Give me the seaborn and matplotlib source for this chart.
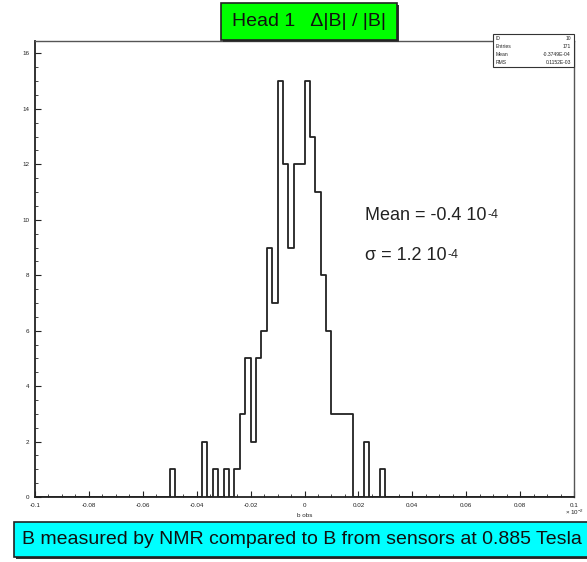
import numpy as np
import pandas as pd
import matplotlib
matplotlib.use("Agg")
import matplotlib.pyplot as plt
from matplotlib.patches import Rectangle
from matplotlib.ticker import MultipleLocator
import seaborn as sns

# Histogram definition: 100 bins on [-0.1, 0.1] (units of 1e-2)
x_min, x_max, n_bins = -0.1, 0.1, 100
filled_bins = [25, 31, 33, 35, 37, 38, 39, 40, 41, 42, 43, 44, 45, 46,
               47, 48, 49, 50, 51, 52, 53, 54, 55, 56, 57, 58, 61, 64]
bin_counts = [1, 2, 1, 1, 1, 3, 5, 2, 5, 6, 9, 7, 15, 12,
              9, 12, 12, 15, 13, 11, 8, 6, 3, 3, 3, 3, 2, 1]

stat_labels = ["ID", "Entries", "Mean", "RMS"]
stat_values = ["10", "171", "-0.3749E-04", "0.1152E-03"]

title_text = "Head 1   \u0394|B| / |B|"
caption_text = "B measured by NMR compared to B from sensors at 0.885 Tesla"
mean_text = "Mean = -0.4 10"
sigma_text = "\u03c3 = 1.2 10"
exponent_text = "-4"

edges = np.linspace(x_min, x_max, n_bins + 1)
centers = 0.5 * (edges[:-1] + edges[1:])
counts = np.zeros(n_bins)
counts[filled_bins] = bin_counts
df = pd.DataFrame({"b obs": centers, "n": counts})

sns.set_theme(style="white")
plt.rcParams["font.family"] = ["Liberation Sans", "DejaVu Sans"]
plt.rcParams["mathtext.default"] = "regular"

W, H = 587, 562
fig = plt.figure(figsize=(W / 100, H / 100), dpi=100)
fig.patch.set_facecolor("white")
ax = fig.add_axes([35 / W, 1 - 497 / H, (574 - 35) / W, (497 - 41) / H])

sns.histplot(data=df, x="b obs", weights="n", bins=n_bins,
             binrange=(x_min, x_max), element="step",
             fill=False, color="#222222", linewidth=1.3, ax=ax)

ax.set_xlim(x_min, x_max)
ax.set_ylim(0, 16.45)
ax.set_ylabel("")
ax.set_xlabel("b obs", fontsize=4.5)
ax.xaxis.set_label_coords(0.5, -0.036)

ax.xaxis.set_minor_locator(MultipleLocator(0.005))
ax.yaxis.set_major_locator(MultipleLocator(2))
ax.yaxis.set_minor_locator(MultipleLocator(0.5))
ax.set_xticks(np.round(np.arange(-0.1, 0.1001, 0.02), 2))
ax.set_xticklabels(["-0.1", "-0.08", "-0.06", "-0.04", "-0.02", "0",
                    "0.02", "0.04", "0.06", "0.08", "0.1"])
ax.tick_params(axis="both", which="major", direction="in", length=4,
               width=0.8, labelsize=4.5, colors="#222222", pad=4,
               bottom=True, left=True)
ax.tick_params(axis="both", which="minor", direction="in", length=2,
               width=0.6, bottom=True, left=True)
for side in ["left", "bottom", "top", "right"]:
    ax.spines[side].set_visible(True)
    ax.spines[side].set_color("#555555")
    ax.spines[side].set_linewidth(1.0)
ax.spines["left"].set_color("#222222")
ax.spines["bottom"].set_color("#222222")
ax.spines["left"].set_linewidth(1.3)
ax.spines["bottom"].set_linewidth(1.3)

fig.text(584 / W, 1 - 512 / H, "\u00d7 10$^{-2}$", fontsize=4.5,
         ha="right", va="center", color="#222222")

# Annotations of the fit, with a small raised exponent after "10"
renderer = fig.canvas.get_renderer()
for txt, ypix in [(mean_text, 215), (sigma_text, 255)]:
    t = fig.text(365 / W, 1 - ypix / H, txt, fontsize=13,
                 ha="left", va="center", color="#222222")
    bb = t.get_window_extent(renderer=renderer)
    fig.text((bb.x1 + 1) / W, (bb.y1 - 2) / H, exponent_text, fontsize=9,
             ha="left", va="top", color="#222222")

# Statistics box
sx0, sy0, sx1, sy1 = 493, 34, 574, 67
fig.patches.append(Rectangle((sx0 / W, 1 - sy1 / H), (sx1 - sx0) / W,
                             (sy1 - sy0) / H, transform=fig.transFigure,
                             facecolor="white", edgecolor="#333333",
                             linewidth=0.8, zorder=5))
for i, (lab, val) in enumerate(zip(stat_labels, stat_values)):
    yy = 1 - (38.5 + i * 8.0) / H
    fig.text((sx0 + 3) / W, yy, lab, fontsize=3.6, ha="left", va="center",
             color="#222222", zorder=6)
    fig.text((sx1 - 3) / W, yy, val, fontsize=3.6, ha="right", va="center",
             color="#222222", zorder=6)

# Title box
tx0, ty0, tx1, ty1 = 221, 3, 397, 40
fig.patches.append(Rectangle(((tx0 + 2) / W, 1 - (ty1 + 2) / H),
                             (tx1 - tx0) / W, (ty1 - ty0) / H,
                             transform=fig.transFigure, facecolor="#333333",
                             edgecolor="none", zorder=7))
fig.patches.append(Rectangle((tx0 / W, 1 - ty1 / H), (tx1 - tx0) / W,
                             (ty1 - ty0) / H, transform=fig.transFigure,
                             facecolor="#00ff00", edgecolor="#222222",
                             linewidth=1.2, zorder=8))
fig.text((tx0 + tx1) / 2 / W, 1 - (ty0 + ty1) / 2 / H, title_text,
         fontsize=14, ha="center", va="center", color="#111111", zorder=9)

# Caption box
cx0, cy0, cx1, cy1 = 14, 522, 590, 557
fig.patches.append(Rectangle(((cx0 + 2) / W, 1 - (cy1 + 2) / H),
                             (cx1 - cx0) / W, (cy1 - cy0) / H,
                             transform=fig.transFigure, facecolor="#333333",
                             edgecolor="none", zorder=7))
fig.patches.append(Rectangle((cx0 / W, 1 - cy1 / H), (cx1 - cx0) / W,
                             (cy1 - cy0) / H, transform=fig.transFigure,
                             facecolor="#00ffff", edgecolor="#222222",
                             linewidth=1.2, zorder=8))
fig.text(302 / W, 1 - 540 / H, caption_text, fontsize=14.0, ha="center",
         va="center", color="#111111", zorder=9)

fig.savefig("out.png", dpi=100, facecolor="white")
